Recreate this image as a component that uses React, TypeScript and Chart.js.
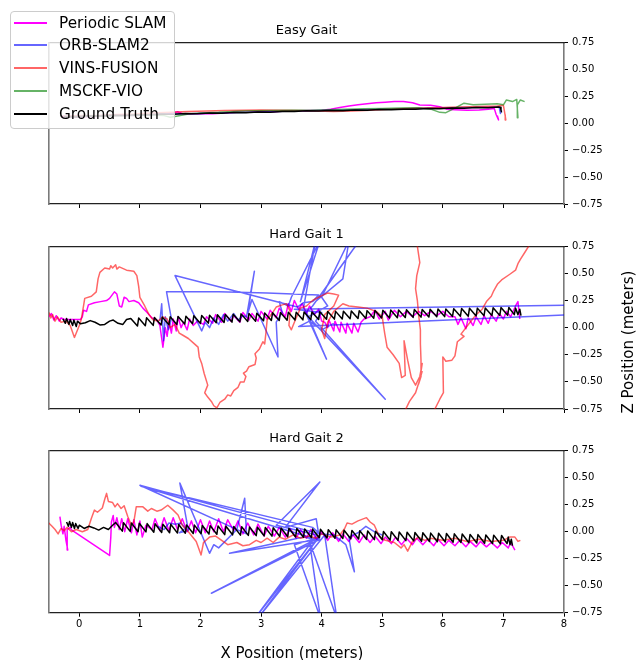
import React, { useEffect, useRef } from 'react';
import { Chart, registerables } from 'chart.js';

Chart.register(...registerables);

type Pt = [number, number];

const FONT = "'DejaVu Sans', sans-serif";

// ---------- labels / ticks ----------
const seriesNames = ['Periodic SLAM', 'ORB-SLAM2', 'VINS-FUSION', 'MSCKF-VIO', 'Ground Truth'];
const seriesColors = ['#ff00ff', 'rgba(0,0,255,0.6)', 'rgba(255,0,0,0.6)', 'rgba(0,128,0,0.6)', '#000000'];
const panelTitles = ['Easy Gait', 'Hard Gait 1', 'Hard Gait 2'];
const xTicks = [0, 1, 2, 3, 4, 5, 6, 7, 8];
const yTicks = [-0.75, -0.5, -0.25, 0, 0.25, 0.5, 0.75];
const xLabel = 'X Position (meters)';
const yLabel = 'Z Position (meters)';

// ---------- Easy Gait ----------
const easyPeriodic: Pt[] = [
  [-0.3, 0.06], [-0.1, 0.055], [0.1, 0.06], [0.3, 0.062], [0.5, 0.068], [0.7, 0.07], [0.9, 0.072], [1.1, 0.076],
  [1.3, 0.08], [1.45, 0.085], [1.55, 0.095], [1.62, 0.106], [1.7, 0.09], [1.85, 0.085], [2.0, 0.09], [2.2, 0.088],
  [2.4, 0.095], [2.6, 0.1], [2.8, 0.1], [3.0, 0.108], [3.2, 0.105], [3.4, 0.112], [3.6, 0.115], [3.8, 0.118],
  [4.0, 0.12], [4.15, 0.13], [4.3, 0.145], [4.45, 0.16], [4.6, 0.17], [4.75, 0.18], [4.9, 0.19], [5.05, 0.195],
  [5.2, 0.2], [5.35, 0.2], [5.5, 0.19], [5.62, 0.168], [5.8, 0.165], [5.95, 0.153], [6.06, 0.13], [6.2, 0.125],
  [6.4, 0.12], [6.6, 0.122], [6.75, 0.13], [6.85, 0.135], [6.88, 0.08], [6.92, 0.03], [6.9, 0.07],
];
const easyOrb: Pt[] = [
  [-0.28, 0.063], [0.0, 0.064], [0.4, 0.07], [0.8, 0.075], [1.2, 0.08], [1.6, 0.086], [2.0, 0.09], [2.4, 0.097],
  [2.8, 0.102], [3.2, 0.108], [3.6, 0.113], [4.0, 0.118], [4.4, 0.122], [4.8, 0.127], [5.2, 0.132], [5.6, 0.136],
  [6.0, 0.142], [6.4, 0.146], [6.8, 0.15], [6.93, 0.15], [6.95, 0.09], [6.97, 0.12],
];
const easyVins: Pt[] = [
  [-0.3, 0.065], [0.0, 0.07], [0.3, 0.072], [0.6, 0.08], [0.9, 0.085], [1.2, 0.095], [1.5, 0.1], [1.8, 0.108],
  [2.1, 0.112], [2.4, 0.118], [2.7, 0.12], [3.0, 0.122], [3.3, 0.12], [3.6, 0.118], [3.9, 0.112], [4.2, 0.108],
  [4.5, 0.112], [4.8, 0.12], [5.1, 0.13], [5.4, 0.135], [5.7, 0.14], [6.0, 0.145], [6.3, 0.15], [6.6, 0.155],
  [6.9, 0.16], [7.0, 0.165], [7.02, 0.1], [7.04, 0.03], [7.03, 0.08],
];
const easyMsckf: Pt[] = [
  [-0.25, 0.06], [0.1, 0.062], [0.5, 0.066], [0.9, 0.07], [1.2, 0.075], [1.4, 0.07], [1.5, 0.055], [1.6, 0.065],
  [1.8, 0.085], [2.0, 0.095], [2.3, 0.1], [2.6, 0.11], [2.9, 0.115], [3.2, 0.118], [3.5, 0.12], [3.8, 0.12],
  [4.1, 0.125], [4.4, 0.128], [4.7, 0.133], [5.0, 0.136], [5.3, 0.14], [5.6, 0.142], [5.8, 0.13], [5.95, 0.1],
  [6.05, 0.097], [6.2, 0.14], [6.35, 0.185], [6.5, 0.17], [6.7, 0.175], [6.9, 0.18], [7.0, 0.17], [7.05, 0.215],
  [7.15, 0.2], [7.22, 0.22], [7.24, 0.05], [7.23, 0.17], [7.28, 0.215], [7.35, 0.2],
];
const easyGroundTruth: Pt[] = [
  [-0.25, 0.062], [-0.05, 0.058], [0.15, 0.068], [0.35, 0.066], [0.55, 0.074], [0.75, 0.072], [0.95, 0.079],
  [1.15, 0.077], [1.35, 0.084], [1.55, 0.082], [1.75, 0.089], [1.95, 0.087], [2.15, 0.094], [2.35, 0.092],
  [2.55, 0.099], [2.75, 0.097], [2.95, 0.104], [3.15, 0.102], [3.35, 0.109], [3.55, 0.107], [3.75, 0.114],
  [3.95, 0.112], [4.15, 0.118], [4.35, 0.116], [4.55, 0.122], [4.75, 0.12], [4.95, 0.126], [5.15, 0.124],
  [5.35, 0.13], [5.55, 0.128], [5.75, 0.135], [5.95, 0.133], [6.15, 0.14], [6.35, 0.138], [6.55, 0.145],
  [6.75, 0.143], [6.92, 0.15], [6.95, 0.148], [6.96, 0.12], [6.97, 0.1],
];

// ---------- Hard Gait 1 ----------
const hard1Periodic: Pt[] = [
  [-0.5, 0.1], [-0.46, 0.13], [-0.42, 0.07], [-0.38, 0.11], [-0.33, 0.06], [-0.3, 0.09], [-0.25, 0.075], [0.02, 0.075],
  [0.05, 0.1], [0.07, 0.16], [0.12, 0.15], [0.15, 0.21], [0.25, 0.23], [0.35, 0.24], [0.45, 0.25], [0.5, 0.27],
  [0.58, 0.33], [0.62, 0.31], [0.66, 0.2], [0.7, 0.19], [0.74, 0.28], [0.78, 0.27], [0.82, 0.24], [0.9, 0.25],
  [0.98, 0.23], [1.05, 0.18], [1.12, 0.14], [1.2, 0.09], [1.28, 0.07], [1.33, 0.02], [1.36, -0.1], [1.38, -0.18],
  [1.42, 0.0], [1.45, -0.08], [1.48, 0.06], [1.52, -0.05], [1.55, 0.08], [1.6, -0.03], [1.63, 0.1], [1.68, 0.0],
  [1.72, 0.05], [1.78, -0.02], [1.82, 0.08], [1.88, 0.02], [1.95, 0.06], [2.05, 0.03], [2.1, 0.1], [2.2, 0.04],
  [2.25, 0.12], [2.35, 0.05], [2.4, 0.13], [2.5, 0.06], [2.55, 0.11], [2.65, 0.05], [2.7, 0.14], [2.8, 0.07],
  [2.85, 0.13], [2.95, 0.06], [3.0, 0.15], [3.1, 0.08], [3.15, 0.16], [3.25, 0.09], [3.3, 0.18], [3.4, 0.1],
  [3.45, 0.22], [3.5, 0.15], [3.55, 0.25], [3.62, 0.17], [3.68, 0.22], [3.75, 0.13], [3.8, 0.2], [3.88, 0.12],
  [3.95, 0.17], [4.0, 0.06], [4.05, 0.05], [4.1, 0.0], [4.12, 0.07], [4.2, -0.03], [4.22, 0.06], [4.3, -0.04],
  [4.32, 0.05], [4.4, -0.05], [4.42, 0.04], [4.5, -0.05], [4.53, 0.04], [4.6, -0.04], [4.65, 0.05], [4.7, 0.08],
  [4.8, 0.1], [4.88, 0.16], [4.95, 0.08], [5.05, 0.15], [5.1, 0.07], [5.2, 0.16], [5.3, 0.1], [5.4, 0.15],
  [5.5, 0.1], [5.6, 0.15], [5.7, 0.11], [5.8, 0.15], [5.9, 0.11], [6.0, 0.15], [6.1, 0.1], [6.2, 0.1],
  [6.25, 0.03], [6.3, 0.09], [6.38, -0.01], [6.42, 0.09], [6.5, 0.02], [6.55, 0.1], [6.63, 0.03], [6.68, 0.11],
  [6.75, 0.04], [6.8, 0.12], [6.88, 0.06], [6.93, 0.13], [7.0, 0.08], [7.05, 0.15], [7.12, 0.1], [7.2, 0.2],
  [7.24, 0.24], [7.27, 0.08],
];
const hard1Orb: Pt[] = [
  [1.33, 0.06], [1.36, 0.22], [1.39, -0.12], [1.42, 0.1], [1.47, -0.02], [1.52, 0.08], [1.44, 0.33], [2.3, 0.33],
  [3.1, 0.32], [3.95, 0.3], [3.85, 0.24], [3.7, 0.23], [3.6, 0.19], [1.58, 0.48], [2.02, -0.03], [2.08, 0.05],
  [2.15, 0.0], [2.22, 0.09], [2.3, 0.03], [2.38, 0.12], [2.45, 0.06], [2.55, 0.13], [2.62, 0.07], [2.7, 0.11],
  [2.76, 0.1], [2.89, 0.52], [2.78, 0.13], [2.85, 0.26], [3.28, -0.27], [3.25, 0.05], [3.35, 0.14], [3.3, 0.24],
  [3.45, 0.2], [3.5, 0.28], [3.97, 0.8], [3.65, 0.24], [3.9, 0.8], [3.7, 0.18], [4.08, -0.29], [3.75, 0.14],
  [3.85, 0.2], [4.62, 0.8], [3.92, 0.25], [4.35, 0.45], [4.45, 0.8], [4.0, 0.28], [4.1, 0.2], [3.78, 0.1],
  [5.05, -0.66], [3.9, 0.06], [4.0, 0.14], [3.55, 0.17], [8.3, 0.21], [8.3, 0.125], [3.62, 0.01], [3.8, 0.06],
  [4.0, -0.02], [4.2, 0.04],
];
const hard1Vins: Pt[] = [
  [-0.5, 0.14], [-0.47, 0.09], [-0.44, 0.12], [-0.4, 0.06], [-0.36, 0.1], [-0.3, 0.05], [-0.22, 0.06], [-0.15, 0.02],
  [-0.08, -0.09], [0.0, 0.02], [0.03, 0.07], [0.07, 0.2], [0.09, 0.27], [0.2, 0.29], [0.28, 0.33], [0.31, 0.45],
  [0.34, 0.51], [0.42, 0.55], [0.5, 0.54], [0.52, 0.57], [0.55, 0.55], [0.6, 0.58], [0.62, 0.54], [0.66, 0.56],
  [0.78, 0.53], [0.9, 0.52], [0.95, 0.48], [0.98, 0.38], [1.0, 0.28], [1.08, 0.2], [1.15, 0.12], [1.22, 0.07],
  [1.3, 0.06], [1.38, 0.1], [1.45, 0.08], [1.5, 0.0], [1.58, 0.03], [1.65, -0.05], [1.71, -0.07], [1.8, -0.1],
  [1.9, -0.15], [1.96, -0.18], [1.98, -0.27], [2.02, -0.33], [2.06, -0.42], [2.12, -0.53], [2.07, -0.6],
  [2.12, -0.64], [2.18, -0.68], [2.22, -0.72], [2.27, -0.74], [2.32, -0.69], [2.4, -0.66], [2.45, -0.62],
  [2.5, -0.63], [2.55, -0.58], [2.62, -0.55], [2.66, -0.5], [2.72, -0.5], [2.75, -0.45], [2.71, -0.42],
  [2.76, -0.4], [2.8, -0.36], [2.9, -0.34], [2.92, -0.28], [2.9, -0.24], [2.97, -0.2], [3.03, -0.13],
  [3.06, -0.15], [3.08, -0.05], [3.1, 0.07], [3.18, 0.13], [3.25, 0.19], [3.35, 0.21], [3.42, 0.22], [3.48, 0.15],
  [3.46, 0.02], [3.5, -0.02], [3.55, 0.05], [3.65, 0.18], [3.75, 0.2], [3.85, 0.25], [3.95, 0.28], [4.02, 0.3],
  [4.1, 0.32], [4.2, 0.31], [4.28, 0.3], [4.2, 0.2], [4.05, 0.12], [4.0, -0.02], [4.05, -0.1], [4.1, 0.05],
  [4.2, 0.15], [4.35, 0.22], [4.45, 0.2], [4.6, 0.19], [4.75, 0.18], [4.9, 0.15], [5.0, 0.1], [5.04, -0.05],
  [5.08, -0.18], [5.18, -0.25], [5.28, -0.33], [5.32, -0.46], [5.38, -0.44], [5.36, -0.12], [5.42, -0.3],
  [5.48, -0.46], [5.55, -0.53], [5.62, -0.45], [5.66, -0.33], [5.62, -0.48], [5.55, -0.6], [5.45, -0.68],
  [5.38, -0.76], [5.3, -0.9], [5.7, -0.95], [5.86, -0.76], [5.95, -0.66], [6.01, -0.6], [6.0, -0.27],
  [6.05, -0.31], [6.15, -0.3], [6.2, -0.26], [6.24, -0.13], [6.35, -0.08], [6.3, -0.06], [6.45, 0.05],
  [6.55, 0.12], [6.65, 0.17], [6.72, 0.24], [6.8, 0.29], [6.84, 0.34], [6.9, 0.4], [6.97, 0.44], [7.1, 0.49],
  [7.2, 0.53], [7.24, 0.59], [7.28, 0.63], [7.36, 0.7], [7.45, 0.78], [7.5, 0.9], [6.0, 1.0], [5.6, 0.9],
  [5.58, 0.75], [5.62, 0.6], [5.57, 0.48], [5.55, 0.36], [5.58, 0.25], [5.6, 0.12], [5.63, -0.02], [5.63, -0.15],
  [5.64, -0.3], [5.64, -0.45], [5.6, -0.52], [5.66, -0.4],
];
const hard1GroundTruth: Pt[] = [
  [-0.27, 0.08], [-0.23, 0.04], [-0.21, 0.085], [-0.17, 0.03], [-0.15, 0.075], [-0.11, 0.02], [-0.09, 0.07],
  [-0.05, 0.01], [-0.03, 0.06], [0.02, 0.035], [0.1, 0.045], [0.18, 0.065], [0.26, 0.05], [0.34, 0.025],
  [0.42, 0.03], [0.5, 0.06], [0.56, 0.07], [0.64, 0.04], [0.72, 0.03], [0.78, 0.075],
  [0.85, 0.085], [0.96, 0.015], [0.98, 0.088], [1.09, 0.018], [1.11, 0.091], [1.22, 0.021], [1.24, 0.094],
  [1.35, 0.024], [1.37, 0.097], [1.48, 0.027], [1.5, 0.1], [1.61, 0.03], [1.63, 0.103], [1.74, 0.033],
  [1.76, 0.106], [1.87, 0.036], [1.89, 0.109], [2.0, 0.039], [2.02, 0.112], [2.13, 0.042], [2.15, 0.115],
  [2.26, 0.045], [2.28, 0.118], [2.39, 0.048], [2.41, 0.121], [2.52, 0.051], [2.54, 0.124], [2.65, 0.054],
  [2.67, 0.127], [2.78, 0.057], [2.8, 0.13], [2.91, 0.06], [2.93, 0.133], [3.04, 0.063], [3.06, 0.136],
  [3.17, 0.066], [3.19, 0.137], [3.3, 0.067], [3.32, 0.139], [3.43, 0.069], [3.45, 0.141], [3.56, 0.071],
  [3.58, 0.142], [3.69, 0.072], [3.71, 0.144], [3.82, 0.074], [3.84, 0.145], [3.95, 0.075], [3.97, 0.147],
  [4.08, 0.077], [4.1, 0.149], [4.21, 0.079], [4.23, 0.15], [4.34, 0.08], [4.36, 0.152], [4.47, 0.082],
  [4.49, 0.154], [4.6, 0.084], [4.62, 0.155], [4.73, 0.085], [4.75, 0.157], [4.86, 0.087], [4.88, 0.159],
  [4.99, 0.089], [5.01, 0.16], [5.12, 0.09], [5.14, 0.162], [5.25, 0.092], [5.27, 0.163], [5.38, 0.093],
  [5.4, 0.165], [5.51, 0.095], [5.53, 0.167], [5.64, 0.097], [5.66, 0.168], [5.77, 0.098], [5.79, 0.17],
  [5.9, 0.1], [5.92, 0.172], [6.03, 0.102], [6.05, 0.173], [6.16, 0.103], [6.18, 0.175], [6.29, 0.105],
  [6.31, 0.176], [6.42, 0.106], [6.44, 0.178], [6.55, 0.108], [6.57, 0.18], [6.68, 0.11], [6.7, 0.181],
  [6.81, 0.111], [6.83, 0.183], [6.94, 0.113], [6.96, 0.185], [7.07, 0.115], [7.09, 0.186], [7.18, 0.12],
  [7.2, 0.18], [7.24, 0.12], [7.27, 0.17], [7.29, 0.11],
];

// ---------- Hard Gait 2 ----------
const hard2Periodic: Pt[] = [
  [-0.32, 0.14], [-0.3, 0.06], [-0.27, -0.02], [-0.25, 0.05], [-0.22, -0.08], [-0.19, -0.17], [-0.2, 0.02],
  [-0.15, 0.04], [-0.13, 0.016], [0.5, -0.22], [0.52, -0.05], [0.53, 0.09], [0.56, 0.15], [0.58, 0.04],
  [0.62, 0.13], [0.66, 0.02], [0.7, 0.12], [0.75, 0.0], [0.8, 0.12], [0.86, -0.01], [0.9, 0.11], [0.95, -0.03],
  [1.0, 0.1], [1.04, -0.05], [1.1, 0.06], [1.2, 0.02], [1.25, 0.12], [1.33, 0.01], [1.4, 0.13], [1.48, 0.01],
  [1.55, 0.13], [1.62, 0.02], [1.7, 0.12], [1.78, 0.0], [1.85, 0.1], [1.92, -0.01], [2.0, 0.11], [2.08, -0.01],
  [2.15, 0.1], [2.22, 0.0], [2.3, 0.12], [2.38, 0.0], [2.45, 0.11], [2.55, 0.01], [2.62, 0.1], [2.7, -0.02],
  [2.78, 0.08], [2.88, -0.03], [2.95, 0.07], [3.05, -0.04], [3.12, 0.05], [3.22, -0.04], [3.3, 0.04],
  [3.4, -0.05], [3.48, 0.03], [3.58, -0.06], [3.65, 0.02], [3.75, -0.06], [3.82, 0.02], [3.92, -0.07], [4.0, 0.0],
  [4.1, -0.08], [4.18, -0.01], [4.28, -0.09], [4.35, -0.02], [4.45, -0.09], [4.52, -0.03], [4.62, -0.1],
  [4.7, -0.03], [4.8, -0.1], [4.88, -0.04], [4.98, -0.11], [5.05, -0.05], [5.15, -0.11], [5.22, -0.05],
  [5.32, -0.12], [5.4, -0.06], [5.5, -0.12], [5.57, -0.06], [5.67, -0.12], [5.75, -0.07], [5.85, -0.13],
  [5.92, -0.07], [6.02, -0.13], [6.1, -0.08], [6.2, -0.13], [6.28, -0.08], [6.38, -0.14], [6.45, -0.09],
  [6.55, -0.14], [6.62, -0.09], [6.72, -0.14], [6.8, -0.1], [6.9, -0.15], [6.98, -0.1], [7.08, -0.15],
  [7.12, -0.1], [7.19, -0.17],
];
const hard2Orb: Pt[] = [
  [1.3, 0.05], [1.4, 0.02], [1.48, 0.08], [1.58, 0.07], [1.68, 0.08], [1.75, 0.03], [1.65, -0.01], [1.8, 0.01],
  [1.66, 0.45], [2.15, -0.2], [2.22, -0.12], [2.3, -0.15], [2.6, 0.02], [2.73, 0.31], [2.76, -0.02], [1.0, 0.43],
  [3.97, -0.02], [3.85, 0.04], [1.02, 0.42], [3.97, -0.08], [3.7, -0.05], [2.48, -0.2], [3.97, -0.07],
  [2.18, -0.57], [3.97, -0.05], [3.55, -0.12], [3.98, -0.8], [3.8, -0.09], [4.25, -0.8], [4.05, -0.03],
  [2.95, -0.8], [3.97, -0.04], [2.9, -0.8], [3.92, -0.03], [3.25, 0.06], [3.97, 0.46], [3.4, 0.04], [3.91, 0.12],
  [3.95, -0.02], [4.2, -0.03], [4.4, -0.12], [4.54, -0.37], [4.45, -0.05], [4.6, -0.01], [4.73, 0.05],
  [4.9, -0.01], [5.0, -0.03],
];
const hard2Vins: Pt[] = [
  [-0.52, 0.09], [-0.45, 0.05], [-0.4, 0.02], [-0.35, -0.02], [-0.3, 0.03], [-0.25, 0.01], [-0.2, 0.04],
  [-0.13, 0.0], [-0.05, 0.02], [0.05, 0.0], [0.14, 0.02], [0.2, 0.125], [0.25, 0.2], [0.3, 0.18], [0.38, 0.22],
  [0.42, 0.3], [0.45, 0.355], [0.48, 0.28], [0.55, 0.27], [0.59, 0.23], [0.63, 0.26], [0.69, 0.215], [0.74, 0.24],
  [0.8, 0.14], [0.86, 0.06], [0.9, 0.09], [0.94, 0.23], [1.05, 0.23], [1.13, 0.19], [1.19, 0.215], [1.28, 0.19],
  [1.35, 0.2], [1.46, 0.245], [1.55, 0.2], [1.63, 0.155], [1.7, 0.06], [1.8, 0.0], [1.93, -0.09], [2.01, -0.215],
  [2.05, -0.1], [2.15, -0.05], [2.25, -0.04], [2.35, -0.08], [2.45, -0.12], [2.6, -0.1], [2.7, -0.13],
  [2.81, -0.12], [2.92, -0.08], [3.0, -0.1], [3.1, -0.06], [3.2, -0.1], [3.3, -0.05], [3.4, -0.07], [3.53, -0.03],
  [3.65, -0.06], [3.8, -0.04], [3.9, -0.06], [4.0, -0.02], [4.15, -0.05], [4.3, -0.03], [4.38, 0.03], [4.42, 0.08],
  [4.5, 0.07], [4.6, 0.1], [4.74, 0.13], [4.8, 0.09], [4.87, 0.06], [4.95, -0.04], [5.05, -0.08], [5.2, -0.1],
  [5.31, -0.15], [5.36, -0.12], [5.42, -0.18], [5.5, -0.09], [5.6, -0.05], [5.7, -0.08], [5.8, -0.06],
  [6.0, -0.08], [6.2, -0.06], [6.4, -0.09], [6.6, -0.07], [6.8, -0.09], [7.0, -0.08], [7.1, -0.05],
  [7.19, -0.05], [7.24, -0.09], [7.28, -0.08],
];
const hard2GroundTruth: Pt[] = [
  [-0.21, 0.09], [-0.18, 0.05], [-0.16, 0.095], [-0.13, 0.04], [-0.11, 0.085], [-0.08, 0.03], [-0.06, 0.075],
  [-0.02, 0.03], [0.0, 0.06], [0.08, 0.03], [0.16, 0.05], [0.24, 0.035], [0.32, 0.015], [0.4, 0.04],
  [0.48, 0.02], [0.55, 0.06],
  [0.6, 0.085], [0.71, 0.005], [0.73, 0.083], [0.84, 0.003], [0.86, 0.08], [0.97, 0.0], [0.99, 0.078],
  [1.1, -0.002], [1.12, 0.075], [1.23, -0.005], [1.25, 0.073], [1.36, -0.007], [1.38, 0.07], [1.49, -0.01],
  [1.51, 0.068], [1.62, -0.012], [1.64, 0.066], [1.75, -0.014], [1.77, 0.063], [1.88, -0.017], [1.9, 0.061],
  [2.01, -0.019], [2.03, 0.058], [2.14, -0.022], [2.16, 0.056], [2.27, -0.024], [2.29, 0.053], [2.4, -0.027],
  [2.42, 0.051], [2.53, -0.029], [2.55, 0.048], [2.66, -0.032], [2.68, 0.046], [2.79, -0.034], [2.81, 0.044],
  [2.92, -0.036], [2.94, 0.041], [3.05, -0.039], [3.07, 0.039], [3.18, -0.041], [3.2, 0.036], [3.31, -0.044],
  [3.33, 0.034], [3.44, -0.046], [3.46, 0.031], [3.57, -0.049], [3.59, 0.029], [3.7, -0.051], [3.72, 0.026],
  [3.83, -0.054], [3.85, 0.024], [3.96, -0.056], [3.98, 0.022], [4.09, -0.058], [4.11, 0.019], [4.22, -0.061],
  [4.24, 0.017], [4.35, -0.063], [4.37, 0.014], [4.48, -0.066], [4.5, 0.012], [4.61, -0.068], [4.63, 0.009],
  [4.74, -0.071], [4.76, 0.007], [4.87, -0.073], [4.89, 0.005], [5.0, -0.075], [5.02, 0.002], [5.13, -0.078],
  [5.15, 0.0], [5.26, -0.08], [5.28, -0.003], [5.39, -0.083], [5.41, -0.005], [5.52, -0.085], [5.54, -0.008],
  [5.65, -0.088], [5.67, -0.01], [5.78, -0.09], [5.8, -0.013], [5.91, -0.093], [5.93, -0.015], [6.04, -0.095],
  [6.06, -0.017], [6.17, -0.097], [6.19, -0.02], [6.3, -0.1], [6.32, -0.022], [6.43, -0.102], [6.45, -0.025],
  [6.56, -0.105], [6.58, -0.027], [6.69, -0.107], [6.71, -0.03], [6.82, -0.11], [6.84, -0.032], [6.95, -0.112],
  [6.97, -0.035], [7.06, -0.11], [7.08, -0.05], [7.11, -0.12], [7.13, -0.07], [7.15, -0.13],
];

const panelSeries: (Pt[] | null)[][] = [
  [easyPeriodic, easyOrb, easyVins, easyMsckf, easyGroundTruth],
  [hard1Periodic, hard1Orb, hard1Vins, null, hard1GroundTruth],
  [hard2Periodic, hard2Orb, hard2Vins, null, hard2GroundTruth],
];

// ---------- layout (pixels) ----------
const W = 637;
const panels = [
  { top: 0, height: 215, areaTop: 42.3, titleCenter: 31, xAxisH: 11, showX: false },
  { top: 215, height: 205, areaTop: 31.3, titleCenter: 20, xAxisH: 11, showX: false },
  { top: 420, height: 240, areaTop: 30.7, titleCenter: 19, xAxisH: 47.3, showX: true },
];

const fmtY = (v: number) => {
  const s = Math.abs(v).toFixed(2);
  return v < -1e-9 ? '\u2212' + s : s;
};

function makeConfig(pi: number): any {
  const p = panels[pi];
  const datasets: any[] = [];
  panelSeries[pi].forEach((pts, i) => {
    if (!pts) return;
    datasets.push({
      label: seriesNames[i],
      data: pts.map(([x, y]) => ({ x, y })),
      showLine: true,
      borderColor: seriesColors[i],
      backgroundColor: seriesColors[i],
      borderWidth: 1.5,
      borderJoinStyle: 'round',
      pointRadius: 0,
      pointHoverRadius: 0,
      tension: 0,
      order: 5 - i,
    });
  });
  return {
    type: 'scatter',
    data: { datasets },
    options: {
      responsive: false,
      animation: false,
      devicePixelRatio: 1,
      events: [],
      layout: { padding: { left: 49, right: 0, top: 0, bottom: 0 } },
      plugins: {
        legend: { display: false },
        tooltip: { enabled: false },
        title: { display: false },
      },
      scales: {
        x: {
          type: 'linear',
          position: 'bottom',
          min: -0.5,
          max: 8,
          afterBuildTicks: (s: any) => { s.ticks = xTicks.map((v) => ({ value: v })); },
          afterFit: (s: any) => { s.height = p.xAxisH; },
          ticks: {
            display: p.showX,
            autoSkip: false,
            maxRotation: 0,
            padding: 2,
            color: '#000',
            font: { family: FONT, size: 10 },
            callback: (v: any) => String(v),
          },
          grid: { display: true, drawOnChartArea: false, drawTicks: true, tickLength: 4, tickColor: '#000', tickWidth: 1 },
          border: { display: true, color: '#222', width: 1.2 },
        },
        y: {
          type: 'linear',
          position: 'right',
          min: -0.75,
          max: 0.75,
          afterBuildTicks: (s: any) => { s.ticks = yTicks.map((v) => ({ value: v })); },
          afterFit: (s: any) => { s.width = 73; },
          ticks: {
            padding: 4,
            color: '#000',
            font: { family: FONT, size: 10 },
            callback: (v: any) => fmtY(Number(v)),
          },
          grid: { display: true, drawOnChartArea: false, drawTicks: true, tickLength: 4, tickColor: '#000', tickWidth: 1 },
          border: { display: true, color: '#7a7a7a', width: 1.6 },
        },
        x2: {
          type: 'linear',
          position: 'top',
          display: true,
          min: -0.5,
          max: 8,
          afterFit: (s: any) => { s.height = p.areaTop; },
          ticks: { display: false },
          grid: { display: false, drawTicks: false },
          border: { display: true, color: '#222', width: 1.2 },
          title: {
            display: true,
            text: panelTitles[pi],
            color: '#000',
            font: { family: FONT, size: 13, weight: 'normal', lineHeight: 1.2 },
            padding: { top: p.titleCenter - 7.8, bottom: 0 },
          },
        },
        y2: {
          type: 'linear',
          position: 'left',
          display: true,
          min: -0.75,
          max: 0.75,
          afterFit: (s: any) => { s.width = 0; },
          ticks: { display: false },
          grid: { display: false, drawTicks: false },
          border: { display: true, color: '#7a7a7a', width: 1.6 },
        },
      },
    },
  };
}

const legendBox = { left: 10, top: 11, width: 165, height: 118 };
const legendRowCenters = [22.7, 45.3, 68.3, 90.5, 113.5];

export default function App() {
  const r0 = useRef<HTMLCanvasElement>(null);
  const r1 = useRef<HTMLCanvasElement>(null);
  const r2 = useRef<HTMLCanvasElement>(null);
  const refs = [r0, r1, r2];

  useEffect(() => {
    const charts = refs.map((r, i) => new Chart(r.current as HTMLCanvasElement, makeConfig(i)));
    return () => charts.forEach((c) => c.destroy());
  }, []);

  return (
    <div style={{ position: 'absolute', left: 0, top: 0, width: W, height: 660, background: '#fff', overflow: 'hidden' }}>
      {panels.map((p, i) => (
        <canvas
          key={i}
          ref={refs[i]}
          width={W}
          height={p.height}
          style={{ position: 'absolute', left: 0, top: p.top, width: W, height: p.height, display: 'block' }}
        />
      ))}
      <div
        style={{
          position: 'absolute', left: 192, top: 645, width: 200, height: 16, textAlign: 'center',
          fontFamily: FONT, fontSize: 15, lineHeight: '16px', whiteSpace: 'nowrap', color: '#000',
        }}
      >
        {xLabel}
      </div>
      <div
        style={{
          position: 'absolute', left: 528, top: 334, width: 200, height: 16, textAlign: 'center',
          transform: 'rotate(-90deg)',
          fontFamily: FONT, fontSize: 15, lineHeight: '16px', whiteSpace: 'nowrap', color: '#000',
        }}
      >
        {yLabel}
      </div>
      <div
        style={{
          position: 'absolute', left: legendBox.left, top: legendBox.top, width: legendBox.width,
          height: legendBox.height, boxSizing: 'border-box', border: '1px solid #cccccc', borderRadius: 4,
          background: 'rgba(255,255,255,0.8)',
        }}
      >
        {seriesNames.map((name, i) => (
          <div
            key={name}
            style={{ position: 'absolute', left: 0, top: legendRowCenters[i] - legendBox.top - 1 - 10, height: 20, width: '100%' }}
          >
            <div style={{ position: 'absolute', left: 3, top: 9, width: 33, height: 2, background: seriesColors[i] }} />
            <span
              style={{
                position: 'absolute', left: 48, top: 0, lineHeight: '20px', fontSize: 15.3,
                fontFamily: FONT, whiteSpace: 'nowrap', color: '#000',
              }}
            >
              {name}
            </span>
          </div>
        ))}
      </div>
    </div>
  );
}
